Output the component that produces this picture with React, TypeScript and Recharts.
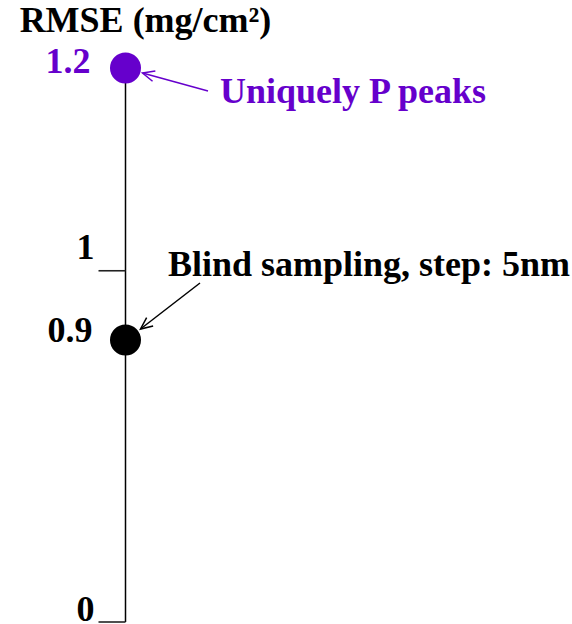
import React from "react";
import { Cell, Scatter, ScatterChart, XAxis, YAxis } from "recharts";

// values
const methods = ["Uniquely P peaks", "Blind sampling, step: 5nm"];
const rmse = [1.2, 0.9];
const position = [0, 0];
const yTicks = [0, 0.9, 1, 1.2];
const yTitle = "RMSE (mg/cm²)";

const FONT = "'Liberation Serif', 'Times New Roman', serif";
const PURPLE = "#6600cc";
const pointColors = [PURPLE, "#000000"];

// the axis is drawn broken: each stop sits at its own fraction of the height
const axisStops = [0, 0.9, 1, 1.2];
const axisFractions = [0, 0.509, 0.634, 1];

// where each callout sits relative to its dot (px)
const callouts: Record<string, { text: [number, number]; tail: [number, number]; tip: [number, number] }> = {
  "Uniquely P peaks": { text: [94.5, 35], tail: [82.5, 23], tip: [17, 5] },
  "Blind sampling, step: 5nm": { text: [42.5, -64], tail: [74.5, -57], tip: [15, -11] },
};

// small nudges [dx, dy] so the tick labels sit like in the original
const tickShift: Record<string, [number, number]> = {
  "0": [0, -1],
  "0.9": [-2, 2],
  "1": [0, -12],
  "1.2": [-4, 5],
};

const data = methods.map((name, i) => ({ name, x: position[i], rmse: rmse[i] }));

function brokenScale(stops: number[], fracs: number[]): any {
  let dom: number[] = [stops[0], stops[stops.length - 1]];
  let rng: number[] = [0, 1];
  const scale: any = (v: number) => {
    let i = 1;
    while (i < stops.length - 1 && v > stops[i]) i++;
    const t = (v - stops[i - 1]) / (stops[i] - stops[i - 1]);
    const f = fracs[i - 1] + t * (fracs[i] - fracs[i - 1]);
    return rng[0] + f * (rng[1] - rng[0]);
  };
  scale.domain = (d?: number[]) => {
    if (d === undefined) return dom;
    dom = [...d];
    return scale;
  };
  scale.range = (r?: number[]) => {
    if (r === undefined) return rng;
    rng = [...r];
    return scale;
  };
  scale.copy = () => brokenScale(stops, fracs).domain(dom).range(rng);
  scale.ticks = () => stops;
  scale.tickFormat = () => (v: number) => String(v);
  scale.nice = () => scale;
  scale.clamp = () => scale;
  return scale;
}

const yScale = brokenScale(axisStops, axisFractions);

const Arrow = ({ x1, y1, x2, y2, color }: any) => {
  const a = Math.atan2(y2 - y1, x2 - x1);
  const len = 13;
  const spread = 0.42;
  const h1 = [x2 - len * Math.cos(a - spread), y2 - len * Math.sin(a - spread)];
  const h2 = [x2 - len * Math.cos(a + spread), y2 - len * Math.sin(a + spread)];
  return (
    <g stroke={color} strokeWidth={1.5} fill="none">
      <line x1={x1} y1={y1} x2={x2} y2={y2} />
      <polyline points={`${h1[0]},${h1[1]} ${x2},${y2} ${h2[0]},${h2[1]}`} />
    </g>
  );
};

const Dot = (props: any) => {
  const { cx, cy, payload, fill } = props;
  const c = callouts[payload.name];
  return (
    <g>
      <circle cx={cx} cy={cy} r={15.5} fill={fill} />
      {c && (
        <>
          <Arrow x1={cx + c.tail[0]} y1={cy + c.tail[1]} x2={cx + c.tip[0]} y2={cy + c.tip[1]} color={fill} />
          <text
            x={cx + c.text[0]}
            y={cy + c.text[1]}
            fill={fill}
            fontFamily={FONT}
            fontWeight="bold"
            fontSize={36}
          >
            {payload.name}
          </text>
        </>
      )}
    </g>
  );
};

const TICK_SIZE = 27;
const TICK_MARGIN = 5;

const YTick = (props: any) => {
  const { x, y, payload } = props;
  const value = payload.value as number;
  const idx = rmse.indexOf(value);
  const color = idx >= 0 ? pointColors[idx] : "#000000";
  const label = String(value);
  const [dx, dy] = tickShift[label] ?? [0, 0];
  return (
    <g>
      {idx < 0 && (
        <line
          x1={x + TICK_MARGIN}
          x2={x + TICK_MARGIN + TICK_SIZE}
          y1={y}
          y2={y}
          stroke="#222"
          strokeWidth={1.6}
        />
      )}
      <text
        x={x + 1 + dx}
        y={y + dy}
        textAnchor="end"
        fill={color}
        fontFamily={FONT}
        fontWeight="bold"
        fontSize={36}
      >
        {label}
      </text>
    </g>
  );
};

const AxisTitle = (props: any) => {
  const vb = props.viewBox;
  return (
    <text
      x={vb.x + vb.width + 20}
      y={vb.y - 36}
      textAnchor="middle"
      fill="#000"
      fontFamily={FONT}
      fontWeight="bold"
      fontSize={36}
    >
      {yTitle}
    </text>
  );
};

export default function App() {
  return (
    <div style={{ width: 572, height: 624, background: "#fff" }}>
      <style>{`body{margin:0}`}</style>
      <ScatterChart width={572} height={624} margin={{ top: 68, right: 20, bottom: 2, left: 25.5 }}>
        <XAxis type="number" dataKey="x" domain={[0, 1]} hide />
        <YAxis
          type="number"
          dataKey="rmse"
          domain={[0, 1.2]}
          scale={yScale}
          ticks={yTicks}
          interval={0}
          width={100}
          tickSize={TICK_SIZE}
          tickMargin={TICK_MARGIN}
          tickLine={false}
          axisLine={{ stroke: "#000", strokeWidth: 1.5 }}
          tick={<YTick />}
          label={{ content: <AxisTitle /> }}
        />
        <Scatter data={data} shape={<Dot />} isAnimationActive={false}>
          {data.map((d, i) => (
            <Cell key={d.name} fill={pointColors[i]} />
          ))}
        </Scatter>
      </ScatterChart>
    </div>
  );
}
